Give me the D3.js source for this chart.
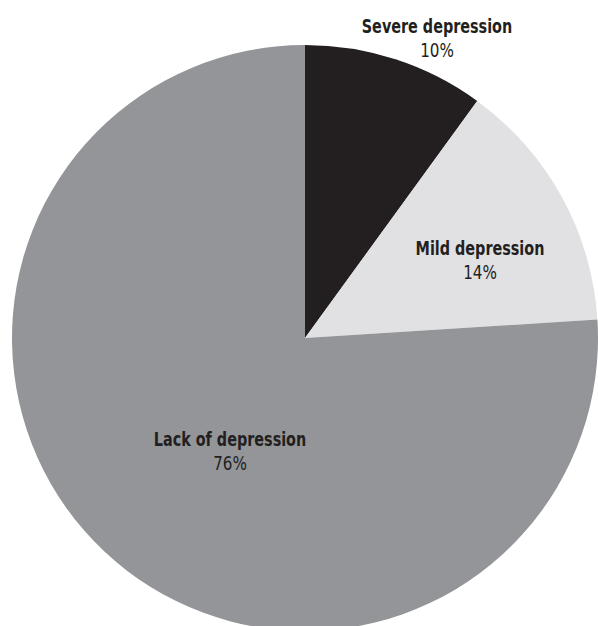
<!DOCTYPE html>
<html>
<head>
<meta charset="utf-8">
<script src="https://cdn.jsdelivr.net/npm/d3@7"></script>
<style>
  body { margin: 0; background: #fff; overflow: hidden; }
  svg { display: block; }
  .lbl { font-family: "DejaVu Sans", sans-serif; fill: #231f20; text-anchor: middle; }
  .name { font-weight: bold; font-size: 20px; }
  .pct { font-size: 19px; }
</style>
</head>
<body>
<div id="container"></div>
<script>
// data
var categories = ['Severe depression', 'Mild depression', 'Lack of depression'];
var values = [10, 14, 76];
var colors = ['#231f20', '#e1e1e3', '#939598'];

// where each label sits (chart layout, not data)
var labelAt = [[437, 33], [480, 255], [230, 446]];

var width = 598, height = 626;
var cx = 305, cy = 338, radius = 293;

var svg = d3.select('#container').append('svg')
    .attr('width', width)
    .attr('height', height);

var pie = d3.pie().sort(null).value(function(d) { return d; });
var arc = d3.arc().innerRadius(0).outerRadius(radius);

var g = svg.append('g').attr('transform', 'translate(' + cx + ',' + cy + ')');

g.selectAll('path')
    .data(pie(values))
    .enter().append('path')
    .attr('d', arc)
    .attr('fill', function(d, i) { return colors[i]; });

// squeeze the text sideways, the original uses a condensed face
var labels = svg.selectAll('.lbl')
    .data(categories)
    .enter().append('g')
    .attr('class', 'lbl')
    .attr('transform', function(d, i) { return 'translate(' + labelAt[i][0] + ',' + labelAt[i][1] + ')'; });

labels.append('text').attr('class', 'name')
    .attr('transform', 'scale(0.72,1)')
    .text(function(d) { return d; });
labels.append('text').attr('class', 'pct')
    .attr('transform', 'translate(0,24) scale(0.8,1)')
    .text(function(d, i) { return values[i] + '%'; });
</script>
</body>
</html>
